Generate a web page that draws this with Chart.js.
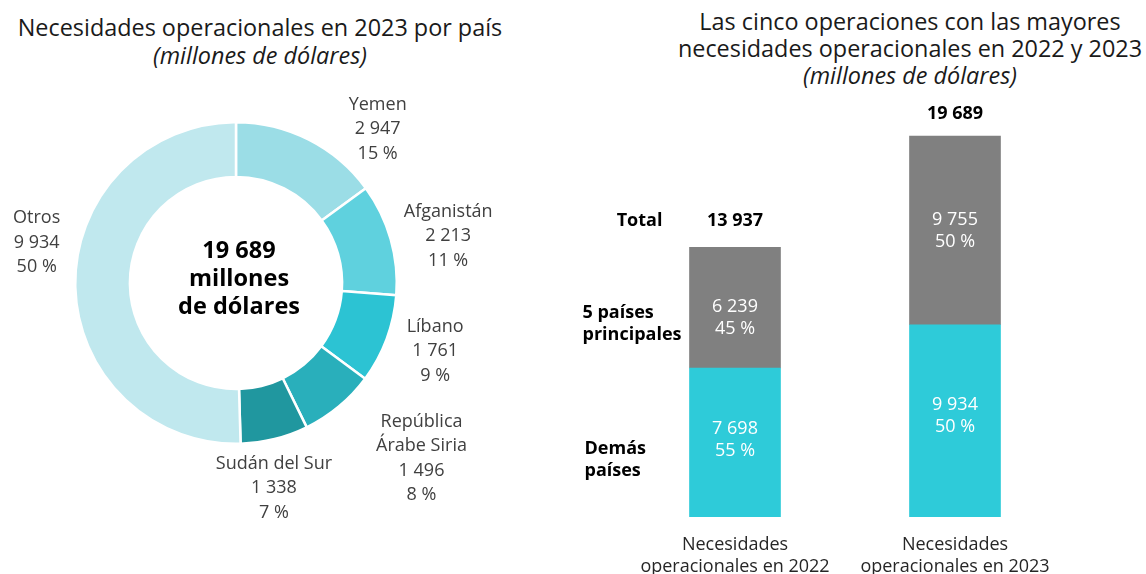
<!DOCTYPE html>
<html>
<head>
<meta charset="utf-8">
<script src="https://cdn.jsdelivr.net/npm/chart.js@4/dist/chart.umd.min.js"></script>
<style>
  html, body { margin: 0; padding: 0; background: #ffffff; }
  body { width: 1146px; height: 574px; position: relative; overflow: hidden; font-family: 'Open Sans', sans-serif; }
  .title { position: absolute; text-align: center; color: #1a1a1a; font-size: 23.4px; white-space: nowrap; }
  .title i { font-style: italic; }
  #t1 { left: 0; width: 520px; top: 13px; line-height: 28px; }
  #t2 { left: 674px; width: 472px; top: 8px; line-height: 27px; }
  #c1 { position: absolute; left: 0; top: 0; }
  #c2 { position: absolute; left: 560px; top: 0; }
</style>
</head>
<body>
<div class="title" id="t1">Necesidades operacionales en 2023 por país<br><i>(millones de dólares)</i></div>
<div class="title" id="t2">Las cinco operaciones con las mayores<br>necesidades operacionales en 2022 y 2023<br><i>(millones de dólares)</i></div>
<canvas id="c1" width="560" height="574"></canvas>
<canvas id="c2" width="586" height="574"></canvas>
<script>
// ---------- DATA ----------
const countryLabels = [["Yemen"], ["Afganistán"], ["Líbano"], ["República", "Árabe Siria"], ["Sudán del Sur"], ["Otros"]];
const countryValues = [2947, 2213, 1761, 1496, 1338, 9934];
const centerLines = ["19 689", "millones", "de dólares"];

const yearCategories = [["Necesidades", "operacionales en 2022"], ["Necesidades", "operacionales en 2023"]];
const otherCountries = [7698, 9934];
const topFive = [6239, 9755];
const seriesNames = [["Demás", "países"], ["5 países", "principales"]];
const totalLabel = "Total";

// ---------- helpers ----------
const FONT = "'Open Sans', sans-serif";
function fmt(n) { return String(n).replace(/\B(?=(\d{3})+(?!\d))/g, " "); }
function pct(v, t) { return Math.round(v / t * 100) + " %"; }
function drawLines(ctx, lines, x, cy, lh) {
  const y0 = cy - (lines.length - 1) * lh / 2;
  lines.forEach((l, i) => ctx.fillText(l, x, y0 + i * lh));
}

// ---------- DOUGHNUT ----------
const donutLabels = {
  id: 'donutLabels',
  afterDatasetsDraw(chart, args, opts) {
    const ctx = chart.ctx;
    const meta = chart.getDatasetMeta(0);
    const data = chart.data.datasets[0].data;
    const total = data.reduce((a, b) => a + b, 0);
    ctx.save();
    ctx.textAlign = 'center';
    ctx.textBaseline = 'middle';
    meta.data.forEach((arc, i) => {
      const p = arc.getProps(['x', 'y', 'startAngle', 'endAngle', 'outerRadius'], true);
      const mid = (p.startAngle + p.endAngle) / 2 + opts.shiftDeg[i] * Math.PI / 180;
      const r = p.outerRadius + opts.dist[i];
      const x = p.x + r * Math.cos(mid);
      const y = p.y + r * Math.sin(mid) + 2;
      const lines = chart.data.labels[i].concat([fmt(data[i]), pct(data[i], total)]);
      ctx.fillStyle = '#404040';
      ctx.font = '18px ' + FONT;
      drawLines(ctx, lines, x, y, 24.5);
    });
    // centre text
    const a0 = meta.data[0];
    ctx.fillStyle = '#000000';
    ctx.font = 'bold 23.5px ' + FONT;
    drawLines(ctx, centerLines, a0.x + 3, a0.y - 4, 28);
    ctx.restore();
  }
};

new Chart(document.getElementById('c1'), {
  type: 'doughnut',
  data: {
    labels: countryLabels,
    datasets: [{
      data: countryValues,
      backgroundColor: ['#9bdde6', '#5fd1de', '#2cc3d3', '#29afbb', '#20979f', '#c0e8ee'],
      borderColor: '#ffffff',
      borderWidth: 2.5
    }]
  },
  options: {
    responsive: false,
    animation: false,
    cutout: '66%',
    layout: { padding: { left: 74, right: 162, top: 121, bottom: 129 } },
    plugins: {
      legend: { display: false },
      tooltip: { enabled: false },
      donutLabels: {
        shiftDeg: [15.3, 2.9, -2.1, -7.2, 3.3, 12.8],
        dist: [50, 57, 49, 93, 46, 43]
      }
    }
  },
  plugins: [donutLabels]
});

// ---------- STACKED BARS ----------
const barLabels = {
  id: 'barLabels',
  afterDatasetsDraw(chart, args, opts) {
    const ctx = chart.ctx;
    const ds = chart.data.datasets;
    const n = chart.data.labels.length;
    const m0 = chart.getDatasetMeta(0), m1 = chart.getDatasetMeta(1);
    ctx.save();
    ctx.textBaseline = 'middle';
    for (let j = 0; j < n; j++) {
      const total = ds[0].data[j] + ds[1].data[j];
      [m0, m1].forEach((meta, k) => {
        const bar = meta.data[j];
        const cy = (bar.y + bar.base) / 2 + opts.innerShift[k][j];
        ctx.textAlign = 'center';
        ctx.fillStyle = '#ffffff';
        ctx.font = '18px ' + FONT;
        drawLines(ctx, [fmt(ds[k].data[j]), pct(ds[k].data[j], total)], bar.x, cy, 22);
      });
      const top = m1.data[j];
      ctx.fillStyle = '#000000';
      ctx.font = 'bold 18px ' + FONT;
      ctx.textAlign = 'center';
      ctx.fillText(fmt(total), top.x, top.y - opts.totalGap[j]);
      // category label
      ctx.fillStyle = '#262626';
      ctx.font = '18px ' + FONT;
      drawLines(ctx, chart.data.labels[j], m0.data[j].x, m0.data[j].base + 39, 22);
    }
    // row labels beside first bar
    const b0 = m0.data[0], b1 = m1.data[0];
    const left = b0.x - b0.width / 2;
    ctx.fillStyle = '#000000';
    ctx.font = 'bold 18px ' + FONT;
    ctx.textAlign = 'left';
    drawLines(ctx, ds[1].rowLabel, left - 107, (b1.y + b1.base) / 2 + 16, 22);
    drawLines(ctx, ds[0].rowLabel, left - 105, (b0.y + b0.base) / 2 + 17, 22);
    ctx.textAlign = 'center';
    ctx.fillText(totalLabel, left - 50, b1.y - opts.totalGap[0]);
    ctx.restore();
  }
};

new Chart(document.getElementById('c2'), {
  type: 'bar',
  data: {
    labels: yearCategories,
    datasets: [
      { label: 'Demás países', rowLabel: seriesNames[0], data: otherCountries, backgroundColor: '#2ecbd9', barThickness: 91 },
      { label: '5 países principales', rowLabel: seriesNames[1], data: topFive, backgroundColor: '#808080', barThickness: 91 }
    ]
  },
  options: {
    responsive: false,
    animation: false,
    layout: { padding: { left: 65, right: 81, top: 130, bottom: 57 } },
    scales: {
      x: { stacked: true, display: false },
      y: { stacked: true, display: false, min: 0, max: 20000 }
    },
    plugins: {
      legend: { display: false },
      tooltip: { enabled: false },
      barLabels: {
        innerShift: [[-3, -5], [10, 0]],
        totalGap: [26, 22]
      }
    }
  },
  plugins: [barLabels]
});
</script>
</body>
</html>
